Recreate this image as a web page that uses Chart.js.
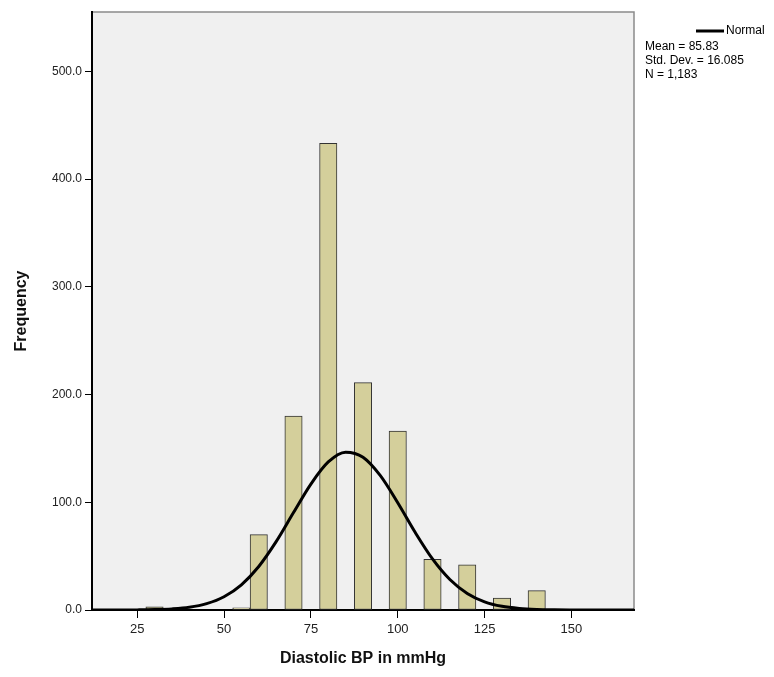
<!DOCTYPE html>
<html>
<head>
<meta charset="utf-8">
<script src="https://cdn.jsdelivr.net/npm/chart.js@4.4.0/dist/chart.umd.min.js"></script>
<style>
  html, body { margin: 0; padding: 0; background: #fff; }
  #wrap { width: 774px; height: 677px; position: relative; }
</style>
</head>
<body>
<div id="wrap"><canvas id="histo"></canvas></div>
<script>
// histogram bins (width 5), centre value and count
const binCenters = [30, 55, 60, 70, 80, 90, 100, 110, 120, 130, 140];
const binCounts = [3, 2, 70, 180, 433, 211, 166, 47, 42, 11, 18];

// normal curve
const curveX = [10, 15, 20, 25, 30, 35, 40, 45, 50, 55, 60, 65, 70, 75, 80, 85, 90, 95, 100, 105, 110, 115, 120, 125, 130, 135, 140, 145, 150, 155, 160, 165, 170];
const curveY = [0, 0.01, 0.03, 0.11, 0.35, 1.0, 2.5, 5.9, 12.3, 23.4, 40.4, 63.4, 90.4, 116.9, 137.4, 146.5, 141.8, 124.7, 99.5, 72.1, 47.4, 28.3, 15.4, 7.6, 3.4, 1.4, 0.5, 0.17, 0.05, 0.01, 0, 0, 0];

const xTicks = [25, 50, 75, 100, 125, 150];
const yTicks = [0, 100, 200, 300, 400, 500];

const legendLabel = 'Normal';
const statLines = ['Mean = 85.83', 'Std. Dev. = 16.085', 'N = 1,183'];

Chart.defaults.font.family = '"Liberation Sans", Arial, sans-serif';
Chart.defaults.font.size = 12;
Chart.defaults.color = '#222';

const bars = binCenters.map((x, i) => ({x: x, y: binCounts[i]}));
const curve = curveX.map((x, i) => ({x: x, y: curveY[i]}));

const panel = {
  id: 'panel',
  beforeDraw(chart) {
    const c = chart.ctx, a = chart.chartArea;
    c.save();
    c.fillStyle = '#f0f0f0';
    c.fillRect(a.left, a.top, a.right - a.left, a.bottom - a.top);
    c.strokeStyle = '#8a8a8a';
    c.lineWidth = 1.5;
    c.beginPath();
    c.moveTo(a.left, a.top);
    c.lineTo(a.right, a.top);
    c.lineTo(a.right, a.bottom);
    c.stroke();
    c.restore();
  },
  afterDraw(chart) {
    const c = chart.ctx, a = chart.chartArea;
    c.save();
    c.font = '12px "Liberation Sans", Arial, sans-serif';
    c.fillStyle = '#000';
    c.textBaseline = 'middle';
    c.strokeStyle = '#000';
    c.lineWidth = 3;
    c.beginPath();
    c.moveTo(a.right + 62, 31);
    c.lineTo(a.right + 90, 31);
    c.stroke();
    c.fillText(legendLabel, a.right + 92, 31);
    statLines.forEach((t, i) => c.fillText(t, a.right + 11, 47 + i * 14));
    c.restore();
  }
};

const ctx = document.getElementById('histo').getContext('2d');
const myChart = new Chart(ctx, {
  type: 'bar',
  data: {
    datasets: [{
      type: 'line',
      label: legendLabel,
      data: curve,
      borderColor: '#000',
      borderWidth: 3,
      pointRadius: 0,
      fill: false,
      cubicInterpolationMode: 'monotone',
      order: 0
    }, {
      label: 'Frequency',
      data: bars,
      backgroundColor: '#d4cf9b',
      borderColor: '#333',
      borderWidth: 1,
      borderSkipped: false,
      barPercentage: 1,
      categoryPercentage: 1,
      order: 1
    }]
  },
  options: {
    responsive: true,
    maintainAspectRatio: false,
    animation: false,
    layout: { padding: { left: 0, right: 140, top: 12, bottom: 0 } },
    plugins: { legend: { display: false }, tooltip: { enabled: false } },
    scales: {
      x: {
        type: 'linear',
        min: 12,
        max: 168,
        offset: false,
        afterFit: s => { s.height = 67; },
        afterBuildTicks: s => { s.ticks = xTicks.map(v => ({value: v})); },
        grid: { offset: false, drawOnChartArea: false, drawTicks: true, tickLength: 8, color: '#000' },
        border: { display: true, color: '#000', width: 2 },
        ticks: { padding: 4, maxRotation: 0, font: { size: 13 } },
        title: { display: true, text: 'Diastolic BP in mmHg', font: { size: 16, weight: 'bold' }, color: '#111', padding: { top: 0, bottom: 9 } }
      },
      y: {
        min: 0,
        max: 555,
        afterFit: s => { s.width = 92; },
        afterBuildTicks: s => { s.ticks = yTicks.map(v => ({value: v})); },
        grid: { drawOnChartArea: false, drawTicks: true, tickLength: 7, color: '#000' },
        border: { display: true, color: '#000', width: 2 },
        ticks: { padding: 3, callback: v => v.toFixed(1) },
        title: { display: true, text: 'Frequency', font: { size: 16, weight: 'bold' }, color: '#111', padding: { top: 12, bottom: 0 } }
      }
    }
  },
  plugins: [panel]
});
</script>
</body>
</html>
